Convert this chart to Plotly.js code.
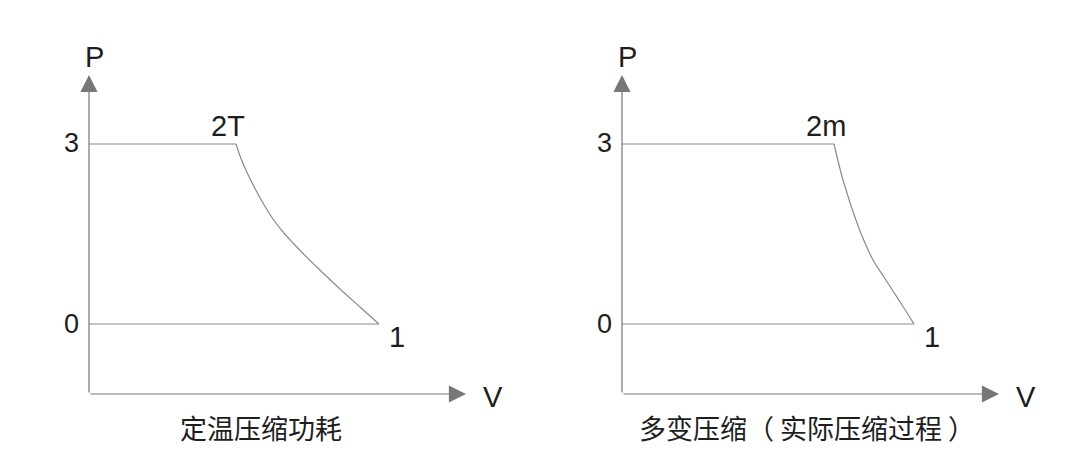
<!DOCTYPE html>
<html>
<head>
<meta charset="utf-8">
<script src="https://cdn.plot.ly/plotly-3.0.1.min.js"></script>
<style>
  html, body { margin: 0; padding: 0; background: #fff; }
  #chart { width: 1080px; height: 476px; }
</style>
</head>
<body>
<div id="chart"></div>
<script>
// P-V diagrams, schematic units (state 2 -> 1 compression curve)
const ISO_V = [14.7, 15.2, 15.8, 16.6, 17.4, 18.4, 19.4, 20.4, 21.4, 23.4, 25.1, 27.1, 29.0];
const ISO_P = [25.0, 23.55, 22.15, 20.55, 19.1, 17.5, 16.2, 15.1, 14.05, 12.1, 10.5, 8.7, 7.0];
const POLY_V = [21.2, 22.1, 23.5, 24.3, 25.1, 26.1, 27.1, 28.1, 29.2];
const POLY_P = [25.0, 21.4, 17.1, 15.1, 13.4, 11.85, 10.3, 8.75, 7.0];

const STATE_LEFT = ["3", "0"];          // labels on the P axis (high, low)
const TOP_LABELS = ["2T", "2m"];
const END_LABEL = "1";
const CAPTIONS = ["定温压缩功耗", "多变压缩（ 实际压缩过程 ）"];
const AXIS_NAMES = ["P", "V"];

const P_MAX = 31.9;   // arrow tips
const V_MAX = 37.7;

const LINE = "#8a8a8a";
const AXIS = "#777777";
const TEXT = "#1e1e1e";
const LATIN = "Liberation Sans, Arial, sans-serif";
const CJK = "Noto Sans CJK SC, sans-serif";

const traces = [];
const annotations = [];

function panel(xref, yref, V, P, topLabel, caption, capX) {
  const n = V.length - 1;
  // 3 -> 2 line
  traces.push({ x: [0, V[0]], y: [P[0], P[0]], xaxis: xref, yaxis: yref,
    mode: "lines", line: { color: LINE, width: 1.2 }, hoverinfo: "skip" });
  // 2 -> 1 curve
  traces.push({ x: V, y: P, xaxis: xref, yaxis: yref, mode: "lines",
    line: { color: LINE, width: 1.2, shape: "spline", smoothing: 1, simplify: false },
    hoverinfo: "skip" });
  // 1 -> 0 line
  traces.push({ x: [V[n], 0], y: [P[n], P[n]], xaxis: xref, yaxis: yref,
    mode: "lines", line: { color: LINE, width: 1.2 }, hoverinfo: "skip" });

  // axes with arrowheads
  const arrow = { text: "", showarrow: true, arrowhead: 2, arrowwidth: 1.2, arrowsize: 2.85,
    arrowcolor: AXIS, axref: xref, ayref: yref, xref, yref, standoff: 0, startstandoff: 0 };
  annotations.push(Object.assign({}, arrow, { x: 0, y: P_MAX, ax: 0, ay: 0 }));
  annotations.push(Object.assign({}, arrow, { x: V_MAX, y: 0, ax: 0, ay: 0 }));

  const lab = (x, y, text, size, dx, dy) => annotations.push({
    xref, yref, x, y, text, showarrow: false, font: { family: LATIN, size, color: TEXT },
    xshift: dx, yshift: dy, xanchor: "center", yanchor: "middle" });

  lab(0, P[0], STATE_LEFT[0], 27, -18, 1);
  lab(0, P[n], STATE_LEFT[1], 27, -18, 0);
  lab(V[0], P[0], topLabel, 29, -8, 18);
  lab(V[n], P[n], END_LABEL, 29, 18, -13);
  lab(0, P_MAX, AXIS_NAMES[0], 29, 5, 18);
  lab(V_MAX, 0, AXIS_NAMES[1], 29, 27, -3);

  annotations.push({ xref, yref, x: capX, y: -3.3, text: caption, showarrow: false,
    font: { family: CJK, size: 27, color: TEXT }, xanchor: "center", yanchor: "middle" });
}

panel("x", "y", ISO_V, ISO_P, TOP_LABELS[0], CAPTIONS[0], 17.2);
panel("x2", "y2", POLY_V, POLY_P, TOP_LABELS[1], CAPTIONS[1], 18.5);

const hidden = { visible: false, fixedrange: true };
const layout = {
  width: 1080, height: 476,
  margin: { l: 0, r: 0, t: 0, b: 0 },
  paper_bgcolor: "#ffffff", plot_bgcolor: "#ffffff",
  showlegend: false,
  xaxis: Object.assign({}, hidden, { domain: [0, 0.5], range: [-8.9, 45.1] }),
  yaxis: Object.assign({}, hidden, { domain: [0, 1], range: [-8.2, 39.4] }),
  xaxis2: Object.assign({}, hidden, { domain: [0.5, 1], range: [-8.2, 45.8], anchor: "y2" }),
  yaxis2: Object.assign({}, hidden, { domain: [0, 1], range: [-8.2, 39.4], anchor: "x2" }),
  annotations,
};
Plotly.newPlot("chart", traces, layout, { displayModeBar: false, staticPlot: true });
</script>
</body>
</html>
